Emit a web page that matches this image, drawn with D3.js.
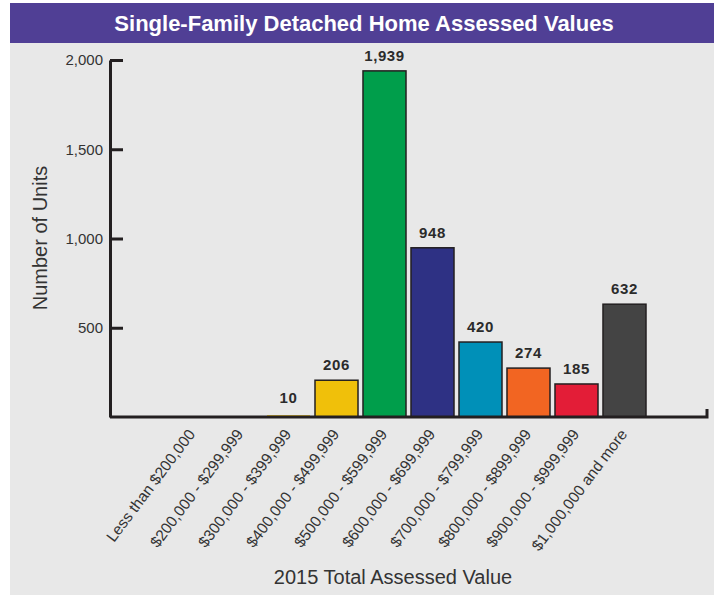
<!DOCTYPE html>
<html>
<head>
<meta charset="utf-8">
<script src="https://cdn.jsdelivr.net/npm/d3@7"></script>
<style>
  body { margin: 0; background: #fff; }
  text { font-family: "Liberation Sans", Arial, sans-serif; }
</style>
</head>
<body>
<div id="chart"></div>
<script>
// categories and values
var categories = ["Less than $200,000", "$200,000 - $299,999", "$300,000 - $399,999",
  "$400,000 - $499,999", "$500,000 - $599,999", "$600,000 - $699,999",
  "$700,000 - $799,999", "$800,000 - $899,999", "$900,000 - $999,999", "$1,000,000 and more"];
var units = [0, 0, 10, 206, 1939, 948, 420, 274, 185, 632];
var barColors = ["#f0c00a", "#f0c00a", "#f0c00a", "#f0c00a", "#009e4b", "#2e3184",
  "#0090b8", "#f26522", "#e31d37", "#444444"];
var yTicks = [500, 1000, 1500, 2000];

var width = 717, height = 595;

var svg = d3.select("#chart")
  .append("svg")
    .attr("width", width)
    .attr("height", height);

// panel + title bar
svg.append("rect")
  .attr("x", 10).attr("y", 3)
  .attr("width", 704).attr("height", 592)
  .attr("fill", "#e8e8e8");
svg.append("rect")
  .attr("x", 10).attr("y", 3)
  .attr("width", 704).attr("height", 40)
  .attr("fill", "#503f95");
svg.append("text")
  .attr("x", 364).attr("y", 31)
  .attr("text-anchor", "middle")
  .attr("fill", "#fff")
  .style("font-size", "22px")
  .style("font-weight", "bold")
  .text("Single-Family Detached Home Assessed Values");

// scales
var x = d3.scaleBand()
  .domain(categories)
  .range([171, 646])
  .paddingInner(0.104)
  .paddingOuter(0);

var y = d3.scaleLinear()
  .domain([0, 2000])
  .range([417, 60]);

// bars
svg.append("g")
  .selectAll("rect")
  .data(units)
  .enter()
  .append("rect")
    .attr("x", function(d, i) { return x(categories[i]); })
    .attr("y", function(d) { return y(d); })
    .attr("width", x.bandwidth())
    .attr("height", function(d) { return y(0) - y(d); })
    .attr("fill", function(d, i) { return barColors[i]; })
    .attr("stroke", function(d) { return d > 20 ? "#231f20" : "none"; })
    .attr("stroke-width", 1.5);

// value labels
svg.append("g")
  .selectAll("text")
  .data(units)
  .enter()
  .filter(function(d) { return d > 0; })
  .append("text")
    .attr("x", function(d) { return x(categories[units.indexOf(d)]) + x.bandwidth() / 2; })
    .attr("y", function(d) { return Math.min(y(d) - 10, 403); })
    .attr("text-anchor", "middle")
    .attr("fill", "#2b2b2b")
    .style("font-size", "15px")
    .style("font-weight", "bold")
    .style("letter-spacing", "0.6px")
    .text(function(d) { return d3.format(",")(d); });

// y axis
var yAxis = svg.append("g")
  .attr("transform", "translate(110,0)")
  .call(d3.axisLeft(y).tickValues(yTicks).tickSizeInner(-13).tickSizeOuter(0)
    .tickPadding(7).tickFormat(d3.format(",")));
yAxis.select(".domain").attr("stroke", "#231f20").attr("stroke-width", 3);
yAxis.selectAll(".tick line").attr("stroke", "#231f20").attr("stroke-width", 3);
yAxis.selectAll(".tick text")
  .attr("fill", "#333")
  .style("font-size", "15px")
  .style("font-family", "Liberation Sans, Arial, sans-serif");

// x axis line with end tick
svg.append("path")
  .attr("d", "M110," + y(0) + "H707V" + (y(0) - 8))
  .attr("fill", "none")
  .attr("stroke", "#231f20")
  .attr("stroke-width", 3);

// x labels
var xAxis = svg.append("g")
  .attr("transform", "translate(0," + (y(0) + 14) + ")")
  .call(d3.axisBottom(x).tickSize(0).tickPadding(0));
xAxis.select(".domain").remove();
xAxis.selectAll(".tick text")
  .attr("fill", "#333")
  .attr("text-anchor", "end")
  .attr("y", 0)
  .attr("dy", "0.35em")
  .attr("transform", "translate(-1,0) rotate(-53)")
  .style("font-size", "15.5px")
  .style("font-family", "Liberation Sans, Arial, sans-serif");

// axis titles
svg.append("text")
  .attr("transform", "translate(47,238) rotate(-90)")
  .attr("text-anchor", "middle")
  .attr("fill", "#333")
  .style("font-size", "20px")
  .text("Number of Units");

svg.append("text")
  .attr("x", 393).attr("y", 584)
  .attr("text-anchor", "middle")
  .attr("fill", "#333")
  .style("font-size", "20px")
  .text("2015 Total Assessed Value");
</script>
</body>
</html>
